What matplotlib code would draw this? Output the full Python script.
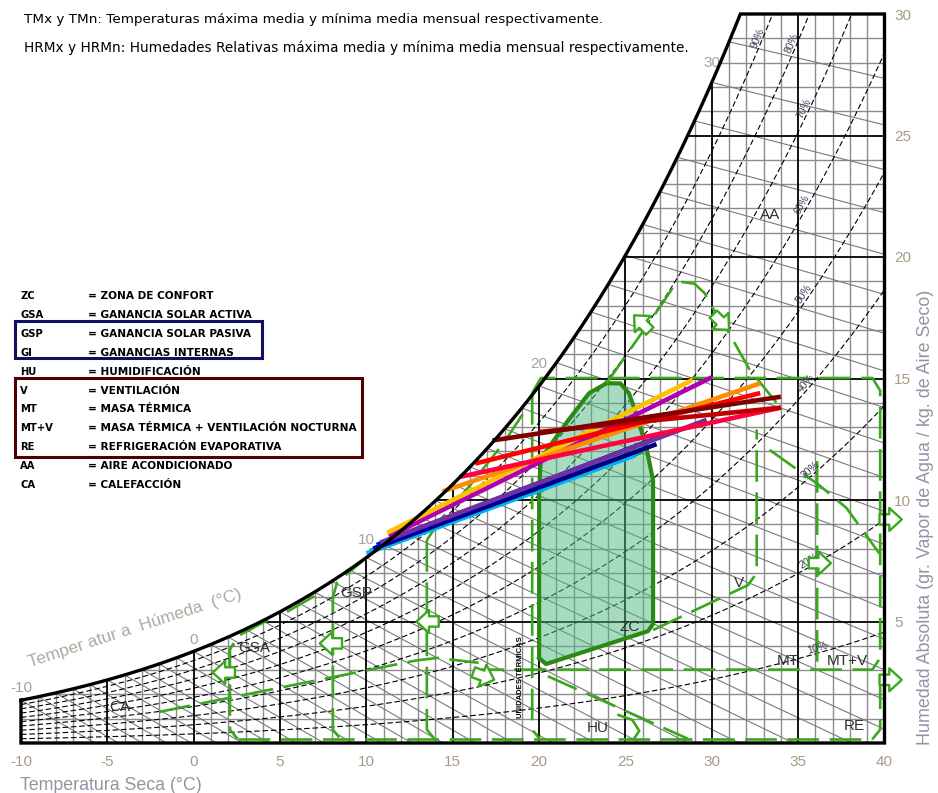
import numpy as np
import matplotlib.pyplot as plt
from matplotlib.patches import Polygon, Rectangle

plt.rcParams["font.family"] = ["Liberation Sans", "DejaVu Sans"]
plt.rcParams["axes.unicode_minus"] = False

P_ATM = 101.325  # kPa

# ejes
t_ticks = [-10, -5, 0, 5, 10, 15, 20, 25, 30, 35, 40]
w_ticks = [5, 10, 15, 20, 25, 30]

# lineas mensuales: (TMn, HRMx) -> (TMx, HRMn) en (°C, g/kg)
month_colors = ["#00a86b", "#00b0f0", "#000080", "#0000ff", "#7030a0", "#b000b0",
                "#ffc000", "#ff8c00", "#ff0040", "#ff0000", "#c00000", "#800000"]
t_low = [10.2, 10.0, 10.4, 10.6, 10.8, 11.3, 11.2, 14.4, 15.4, 16.3, 20.0, 17.3]
w_low = [7.9, 7.8, 8.0, 8.15, 8.25, 8.5, 8.65, 10.35, 10.95, 11.5, 12.8, 12.45]
t_high = [26.0, 25.6, 26.8, 28.1, 29.7, 30.0, 28.9, 32.8, 34.0, 32.8, 34.0, 34.0]
w_high = [12.0, 11.85, 12.3, 12.9, 13.3, 15.05, 14.95, 14.8, 13.8, 14.4, 13.8, 14.25]

# curvas de humedad relativa
rh_levels = [10, 20, 30, 40, 50, 60, 70, 80, 90]
rh_label_t = [36.2, 35.8, 35.9, 35.7, 35.6, 35.5, 35.6, 34.9, 32.9]

# etiquetas de temperatura humeda sobre la curva de saturacion
wb_labels = [-10, 0, 10, 20, 30]

# leyenda de estrategias
legend_codes = ["ZC", "GSA", "GSP", "GI", "HU", "V", "MT", "MT+V", "RE", "AA", "CA"]
legend_desc = ["ZONA DE CONFORT", "GANANCIA SOLAR ACTIVA", "GANANCIA SOLAR PASIVA",
               "GANANCIAS INTERNAS", "HUMIDIFICACIÓN", "VENTILACIÓN", "MASA TÉRMICA",
               "MASA TÉRMICA + VENTILACIÓN NOCTURNA", "REFRIGERACIÓN EVAPORATIVA",
               "AIRE ACONDICIONADO", "CALEFACCIÓN"]

# etiquetas de zona dentro del climograma
zone_text = ["AA", "ZC", "GSA", "GSP", "CA", "HU", "V", "MT", "MT+V", "RE"]
zone_t = [33.35, 25.24, 3.48, 9.39, -4.27, 23.39, 31.6, 34.39, 37.86, 38.26]
zone_w = [21.73, 4.77, 3.9, 6.17, 1.48, 0.62, 6.6, 3.37, 3.37, 0.7]

# zona de confort
comfort_t = [20.0, 20.0, 20.1, 21.6, 22.9, 23.9, 24.7, 25.2, 25.6, 26.2, 26.6,
             26.6, 26.3, 20.4, 20.0]
comfort_w = [3.5, 10.4, 11.7, 13.2, 14.4, 14.8, 14.8, 14.4, 13.6, 12.2, 10.8,
             4.9, 4.6, 3.25, 3.5]

# limites de estrategias (lineas discontinuas)
gsa_t = [4.3, 2.55, 2.1, 2.1, 2.55]
gsa_w = [5.06, 4.4, 3.85, 0.55, 0.16]
sat_seg_t = [5.4, 7.3]
sat_seg_w = [5.4, 6.17]
gsp_t = [10.2, 8.9, 8.3, 8.06, 8.06, 8.5]
gsp_w = [7.74, 6.97, 6.6, 6.0, 0.55, 0.16]
gi_t = [13.5, 13.5, 13.95]
gi_w = [8.35, 0.55, 0.16]
gi_top_t = [13.5, 14.3, 16.0, 18.0, 19.3]
gi_top_w = [8.35, 9.2, 10.6, 12.4, 13.8]
hu_t = [19.6, 19.6, 20.05]
hu_w = [14.4, 0.55, 0.16]
hu_hook_t = [24.6, 25.4, 25.8, 25.5]
hu_hook_w = [1.15, 0.95, 0.5, 0.18]
top_t = [19.6, 20.1, 39.3, 39.75, 39.75, 39.3, 16.5]
top_w = [14.4, 15.02, 15.02, 14.5, 3.5, 3.02, 3.02]
ca_t = [-2.0, 12.9, 14.1, 14.7, 16.5]
ca_w = [1.28, 3.4, 3.5, 3.45, 3.3]
base_t = [2.55, 39.3]
base_w = [0.16, 0.16]
re_right_t = [39.75, 39.75, 39.3]
re_right_w = [2.7, 0.55, 0.16]
re_left_t = [20.5, 28.6]
re_left_w = [2.75, 0.18]
v_t = [26.6, 32.1, 32.6, 32.6]
v_w = [4.65, 6.5, 7.0, 12.9]
mt_t = [36.1, 36.1, 35.7]
mt_w = [11.6, 3.35, 3.02]
mt_top_t = [33.35, 36.24, 37.8, 39.7]
mt_top_w = [12.06, 10.6, 9.67, 7.8]
aa_t = [23.9, 27.15, 27.8, 28.3, 29.0, 29.6, 30.05, 30.8, 32.2, 34.1]
aa_w = [14.8, 18.1, 18.8, 18.97, 18.9, 18.5, 17.9, 17.12, 15.35, 13.7]

# flechas de las estrategias (punta y direccion)
arrow_t = [1.1, 7.3, 12.9, 17.4, 25.5, 31.0, 36.9, 41.0, 41.0]
arrow_w = [2.9, 4.1, 5.0, 2.6, 17.6, 17.0, 7.4, 9.2, 2.6]
arrow_dir = [180, 180, 180, -20, 135, -45, 0, 0, 0]


def p_sat(t):
    return 0.61078 * np.exp(17.27 * t / (t + 237.3))


def w_rh(t, rh):
    pv = rh * p_sat(t)
    return 622.0 * pv / (P_ATM - pv)


def wet_bulb_slope(ws):
    # pendiente de las rectas de temperatura humeda (g/kg por °C)
    return 0.41 * 16.5 / (11.5 + max(ws, 5.0))


GREEN = "#3aa81c"
DARK_GREEN = "#2b8a14"
TICK_COLOR = "#a89a88"

fig = plt.figure(figsize=(9.38, 7.93), dpi=100)
ax = fig.add_axes([21 / 938, 50 / 793, 863.5 / 938, 729 / 793])
ax.set_xlim(-10, 40)
ax.set_ylim(0, 30)
for s in ax.spines.values():
    s.set_visible(False)

# contorno del climograma
t_fine = np.linspace(-10, 40, 2001)
w_fine = w_rh(t_fine, 1.0)
t_top = np.interp(30, w_fine, t_fine)
t_sat = np.linspace(-10, t_top, 400)
w_sat = w_rh(t_sat, 1.0)
out_t = np.concatenate([t_sat, [40, 40, -10, -10]])
out_w = np.concatenate([w_sat, [30, 0, 0, w_sat[0]]])
clip = Polygon(np.column_stack([out_t, out_w]), closed=True, transform=ax.transData)


def clipped(lines):
    for ln in lines:
        ln.set_clip_path(clip)


# reticula
for t in range(-10, 41):
    major = t % 5 == 0
    clipped(ax.plot([t, t], [0, 30], color="black" if major else "#8c8c8c",
                    lw=1.3 if major else 1.0, zorder=3 if major else 1))
for w in range(0, 31):
    major = w % 5 == 0
    clipped(ax.plot([-10, 40], [w, w], color="black" if major else "#8c8c8c",
                    lw=1.3 if major else 1.0, zorder=3 if major else 1))

# temperatura humeda
for twb in range(-10, 32):
    ws = w_rh(twb, 1.0)
    k = wet_bulb_slope(ws)
    clipped(ax.plot([twb, twb + ws / k], [ws, 0], color="#7a7a7a", lw=0.8, zorder=2))

# humedad relativa
for rh, tl in zip(rh_levels, rh_label_t):
    clipped(ax.plot(t_fine, w_rh(t_fine, rh / 100), color="black", lw=0.8,
                    ls=(0, (5, 2.5)), zorder=2))
    wl = w_rh(tl, rh / 100)
    p1 = ax.transData.transform((tl, wl))
    p2 = ax.transData.transform((tl + 0.05, w_rh(tl + 0.05, rh / 100)))
    ang = np.degrees(np.arctan2(p2[1] - p1[1], p2[0] - p1[0]))
    ax.text(tl, wl, f"{rh}%", rotation=ang, rotation_mode="anchor", ha="center",
            va="bottom", fontsize=7.5, color="#3c3c5a", zorder=6)

ax.plot(out_t, out_w, color="black", lw=2.4, zorder=8, clip_on=False,
        solid_joinstyle="miter")

# zona de confort
ax.fill(comfort_t, comfort_w, color="#51b981", alpha=0.5, lw=0, zorder=4)
ax.plot(comfort_t, comfort_w, color=DARK_GREEN, lw=3.0, zorder=5)

# estrategias
dashed = dict(color=GREEN, lw=1.9, ls=(0, (12, 4)), zorder=5, solid_capstyle="butt")
for pt, pw in [(gsa_t, gsa_w), (sat_seg_t, sat_seg_w), (gsp_t, gsp_w), (gi_t, gi_w),
               (gi_top_t, gi_top_w), (hu_t, hu_w), (top_t, top_w), (ca_t, ca_w),
               (base_t, base_w), (re_right_t, re_right_w), (re_left_t, re_left_w),
               (v_t, v_w), (mt_t, mt_w), (mt_top_t, mt_top_w), (aa_t, aa_w)]:
    ax.plot(pt, pw, **dashed)
ax.plot(hu_hook_t, hu_hook_w, color=GREEN, lw=1.9, zorder=5)

for at, aw, ad in zip(arrow_t, arrow_w, arrow_dir):
    dx = -16 * np.cos(np.radians(ad))
    dy = -16 * np.sin(np.radians(ad))
    ax.annotate("", xy=(at, aw), xytext=(dx, dy), textcoords="offset points",
                annotation_clip=False, zorder=6,
                arrowprops=dict(arrowstyle="simple,head_length=0.6,head_width=1.1,tail_width=0.5",
                                mutation_scale=15, fc="white", ec=GREEN, lw=1.7,
                                shrinkA=0, shrinkB=0))

# lineas mensuales
for c, t0, w0, t1, w1 in zip(month_colors, t_low, w_low, t_high, w_high):
    ax.plot([t0, t1], [w0, w1], color=c, lw=3.3, zorder=7, solid_capstyle="butt")

# textos de zona
for txt, zt, zw in zip(zone_text, zone_t, zone_w):
    ax.text(zt, zw, txt, fontsize=11, color="#30302c", ha="center", va="center", zorder=9)
ax.text(18.9, 2.7, "UNIDADES TÉRMICAS", rotation=90, fontsize=5.5, fontweight="bold",
        ha="center", va="center", zorder=9)

# etiquetas de temperatura humeda
wb_offset = [9, 8, 13, 16, 14]
for tl, off in zip(wb_labels, wb_offset):
    ax.annotate(str(tl), xy=(tl, w_rh(tl, 1.0)), xytext=(0, off), textcoords="offset points",
                ha="center", va="center", fontsize=11, color="#a8a0a0",
                annotation_clip=False)
ax.text(-3.4, 4.7, "Temper atur a  Húmeda  (°C)", rotation=18, ha="center", va="center",
        fontsize=12.5, color="#b0a8a0")

# ejes
ax.set_xticks(t_ticks)
ax.set_yticks(w_ticks)
ax.yaxis.tick_right()
ax.tick_params(length=0, colors=TICK_COLOR, labelsize=11)
ax.tick_params(axis="x", pad=9)
ax.tick_params(axis="y", pad=7)

fig.text(20 / 938, 1 - 785 / 793, "Temperatura Seca (°C)", fontsize=12.8,
         color="#8f96a3", va="center")
fig.text(925 / 938, 1 - 517 / 793, "Humedad Absoluta (gr. Vapor de Agua / kg. de Aire Seco)",
         rotation=90, fontsize=12.9, color="#8f96a3", ha="center", va="center")

fig.text(24 / 938, 1 - 20 / 793,
         "TMx y TMn: Temperaturas máxima media y mínima media mensual respectivamente.",
         fontsize=9.7, family="DejaVu Sans", va="center")
fig.text(24 / 938, 1 - 48 / 793,
         "HRMx y HRMn: Humedades Relativas máxima media y mínima media mensual respectivamente.",
         fontsize=9.8, family="DejaVu Sans", va="center")

# leyenda
for i, (code, desc) in enumerate(zip(legend_codes, legend_desc)):
    y = 1 - (296 + i * 18.9) / 793
    fig.text(20 / 938, y, code, fontsize=7.2, fontweight="bold", family="DejaVu Sans",
             va="center")
    fig.text(88 / 938, y, "= " + desc, fontsize=7.6, fontweight="bold",
             family="DejaVu Sans", va="center")
fig.add_artist(Rectangle((15 / 938, 1 - 358 / 793), 247 / 938, 37 / 793,
                         fill=False, ec="#101060", lw=2.2, transform=fig.transFigure))
fig.add_artist(Rectangle((15 / 938, 1 - 457 / 793), 347 / 938, 79 / 793,
                         fill=False, ec="#500000", lw=2.2, transform=fig.transFigure))

fig.savefig("out.png", dpi=100, facecolor="white")
